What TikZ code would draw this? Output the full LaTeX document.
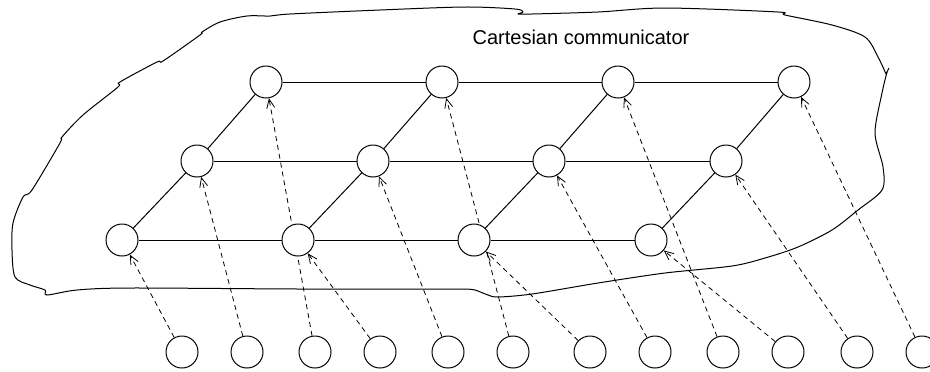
\documentclass[tikz,border=0pt]{standalone}
\usepackage{fontspec}
\setmainfont{Liberation Sans}
\usetikzlibrary{arrows.meta,backgrounds}
\tikzset{
  proc/.style={circle, draw, fill=white, minimum size=16pt, inner sep=0pt},
  maplink/.style={dash pattern=on 2.5pt off 2pt, -{Straight Barb[length=4.5pt,width=4pt]}},
}
\begin{document}
\begin{tikzpicture}[x=0.5pt,y=-0.5pt,line width=0.5pt]
\useasboundingbox (0,0) rectangle (930,371);
% communicator outline
\draw[line join=round] plot[smooth, tension=0.5] coordinates {
  (465,289) (300,289) (130,288) (77,290) (47,295) (45,290) (30,285) (15,277)
  (12,250) (13,223) (23,197) (32,190) (60,143) (62,137) (83,115) (118,87)
  (120,82) (157,62) (163,61) (200,35) (202,32) (220,22) (247,16) (270,16)
  (290,14) (380,10) (465,7) (515,9) (523,12) (518,14) (532,14) (598,12)
  (665,8) (778,12) (785,15) (832,25) (865,37) (878,57) (886,74)};
\draw (886,74) -- (889,68);
\draw[line join=round] plot[smooth, tension=0.5] coordinates {
  (887,72) (882,93) (875,133) (883,167) (882,190) (858,210) (832,230)
  (798,247) (765,258) (732,266) (665,273) (598,283) (532,294) (498,297)
  (488,295) (475,290) (465,289)};
\node (title) at (581,37) {\fontsize{10}{12}\selectfont Cartesian communicator};
% grid processes
\node[proc] (c00) at (122,240) {};
\node[proc] (c10) at (298,240) {};
\node[proc] (c20) at (474,240) {};
\node[proc] (c30) at (651,240) {};
\node[proc] (c01) at (197,161) {};
\node[proc] (c11) at (373,161) {};
\node[proc] (c21) at (549,161) {};
\node[proc] (c31) at (726,161) {};
\node[proc] (c02) at (266,82) {};
\node[proc] (c12) at (442,82) {};
\node[proc] (c22) at (618,82) {};
\node[proc] (c32) at (794,82) {};
\draw (c00) -- (c10) -- (c20) -- (c30);
\draw (c01) -- (c11) -- (c21) -- (c31);
\draw (c02) -- (c12) -- (c22) -- (c32);
\draw (c00) -- (c01) -- (c02);
\draw (c10) -- (c11) -- (c12);
\draw (c20) -- (c21) -- (c22);
\draw (c30) -- (c31) -- (c32);
% original processes
\node[proc] (r0) at (182,352) {};
\node[proc] (r1) at (247,352) {};
\node[proc] (r2) at (315,352) {};
\node[proc] (r3) at (380,352) {};
\node[proc] (r4) at (448,352) {};
\node[proc] (r5) at (513,352) {};
\node[proc] (r6) at (590,352) {};
\node[proc] (r7) at (655,352) {};
\node[proc] (r8) at (723,352) {};
\node[proc] (r9) at (788,352) {};
\node[proc] (r10) at (857,352) {};
\node[proc] (r11) at (922,352) {};
\begin{pgfonlayer}{background}
\draw[maplink] (r0) -- (c00);
\draw[maplink] (r1) -- (c01);
\draw[maplink] (r2) -- (c02);
\draw[maplink] (r3) -- (c10);
\draw[maplink] (r4) -- (c11);
\draw[maplink] (r5) -- (c12);
\draw[maplink] (r6) -- (c20);
\draw[maplink] (r7) -- (c21);
\draw[maplink] (r8) -- (c22);
\draw[maplink] (r9) -- (c30);
\draw[maplink] (r10) -- (c31);
\draw[maplink] (r11) -- (c32);
\end{pgfonlayer}
\end{tikzpicture}
\end{document}
